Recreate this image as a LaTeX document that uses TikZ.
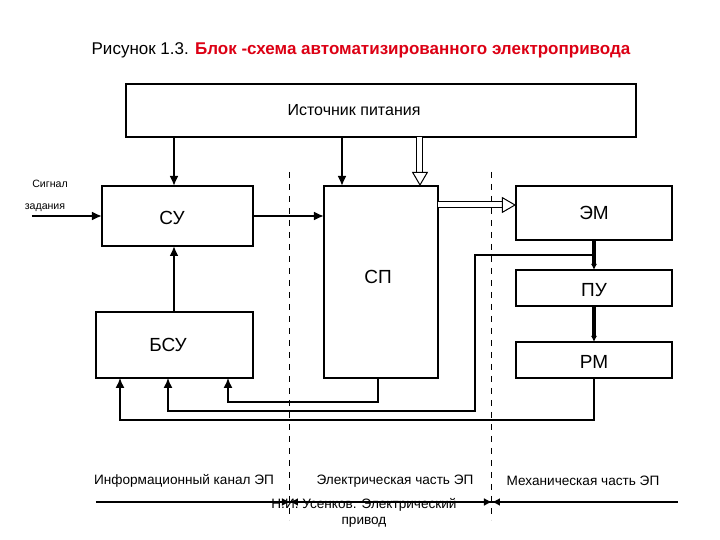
\documentclass[tikz,border=0pt]{standalone}
\usepackage{fontspec}
\setmainfont{Liberation Sans}
\usetikzlibrary{arrows.meta}
\begin{document}
\begin{tikzpicture}[x=0.5pt,y=-0.5pt,
  blk/.style={draw,line width=0.6pt,inner sep=0pt},
  lbl/.style={font=\fontsize{8}{9.5}\selectfont},
  big/.style={font=\fontsize{9.5}{11}\selectfont},
  sm/.style={font=\fontsize{6.8}{8}\selectfont},
  tiny/.style={font=\fontsize{5.3}{6}\selectfont},
  arr/.style={line width=1.1pt,-{Latex[length=5pt,width=4.5pt]}},
  tarr/.style={line width=2.2pt,-{Latex[length=3pt,width=3pt]}},
  fb/.style={line width=0.7pt,-{Latex[length=5pt,width=4.5pt]}},
  dbl/.style={double distance=2.5pt,line width=0.5pt,-{Triangle[open,length=7pt,width=8pt]}},
  div/.style={dashed,line width=0.5pt}]
\useasboundingbox (0,0) rectangle (720,540);
\node[font=\fontsize{8.5}{10}\selectfont] (title) at (361,50) {Рисунок 1.3. \textcolor[RGB]{220,0,20}{\bfseries Блок -схема автоматизированного электропривода}};
% boxes
\draw[blk] (126,84) rectangle (636,137); \node[lbl] (ip) at (354,110) {Источник питания};
\draw[blk] (102,186) rectangle (253,246); \node[big] (su) at (172,218) {СУ};
\draw[blk] (96,312) rectangle (253,378); \node[big] (bsu) at (168,345) {БСУ};
\draw[blk] (324,186) rectangle (438,378); \node[big] (sp) at (378,277) {СП};
\draw[blk] (516,186) rectangle (672,240); \node[big] (em) at (594,213) {ЭМ};
\draw[blk] (516,270) rectangle (672,306); \node[big] (pu) at (594,290) {ПУ};
\draw[blk] (516,342) rectangle (672,378); \node[big] (rm) at (594,362) {РМ};
% named points
\coordinate (a1s) at (174,137); \coordinate (a1e) at (174,186);
\coordinate (a2s) at (342,137); \coordinate (a2e) at (342,186);
\coordinate (a3s) at (420,137); \coordinate (a3e) at (420,186);
\coordinate (d1s) at (438,205); \coordinate (d1e) at (516,205);
\coordinate (sus) at (253,216); \coordinate (spin) at (324,216);
\coordinate (sgs) at (32,216); \coordinate (sgn) at (102,216);
\coordinate (bt) at (174,312); \coordinate (sb) at (174,246);
\coordinate (emb) at (594,240); \coordinate (put) at (594,270);
\coordinate (pub) at (594,306); \coordinate (rmt) at (594,342);
% arrows
\draw[arr] (a1s) -- (a1e);
\draw[arr] (a2s) -- (a2e);
\draw[dbl] (a3s) -- (a3e);
\draw[dbl] (d1s) -- (d1e);
\draw[arr] (sus) -- (spin);
\draw[arr] (sgs) -- (sgn);
\draw[arr] (bt) -- (sb);
\draw[tarr] (emb) -- (put);
\draw[tarr] (pub) -- (rmt);
\node[tiny] (sig1) at (50,184) {Сигнал};
\node[tiny] (sig2) at (45,208) {задания};
% feedback
\coordinate (f1a) at (594,378); \coordinate (f1b) at (120,378);
\draw[fb] (f1a) -- (594,420) -- (120,420) -- (f1b);
\coordinate (f2a) at (594,255); \coordinate (f2b) at (168,378);
\draw[fb] (f2a) -- (475,255) -- (475,411) -- (168,411) -- (f2b);
\coordinate (f3a) at (378,378); \coordinate (f3b) at (228,378);
\draw[fb] (f3a) -- (378,402) -- (228,402) -- (f3b);
% dividers
\coordinate (v1t) at (290,172); \coordinate (v1b) at (290,520);
\coordinate (v2t) at (492,172); \coordinate (v2b) at (492,520);
\draw[div] (v1t) -- (v1b);
\draw[div] (v2t) -- (v2b);
% axis
\coordinate (ax1) at (96,502); \coordinate (ax2) at (678,502);
\draw[line width=1.1pt] (ax1) -- (ax2);
\draw[-{Latex[length=4pt,width=4pt]},line width=0.8pt] (282,502) -- (v1b |- ax1);
\draw[-{Latex[length=4pt,width=4pt]},line width=0.8pt] (298,502) -- (v1b |- ax1);
\draw[-{Latex[length=4pt,width=4pt]},line width=0.8pt] (484,502) -- (v2b |- ax1);
\draw[-{Latex[length=4pt,width=4pt]},line width=0.8pt] (500,502) -- (v2b |- ax1);
\node[sm] (l1) at (184,481) {Информационный канал ЭП};
\node[sm] (l2) at (395,481) {Электрическая часть ЭП};
\node[sm] (l3) at (583,481) {Механическая часть ЭП};
\node[sm,align=center] (auth) at (364,513) {Н.И. Усенков. Электрический\\привод};
\end{tikzpicture}
\end{document}
